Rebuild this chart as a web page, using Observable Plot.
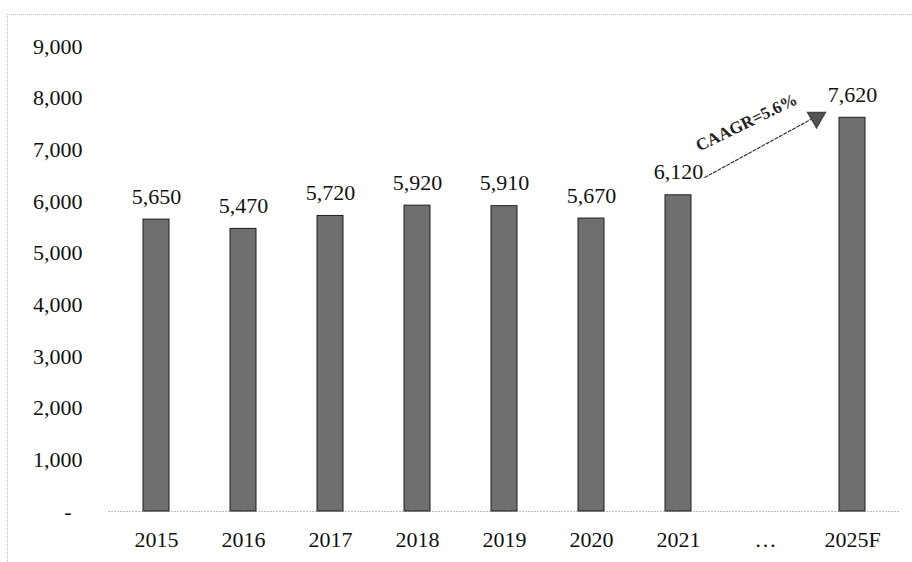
<!DOCTYPE html>
<html>
<head>
<meta charset="utf-8">
<script src="https://cdn.jsdelivr.net/npm/d3@7"></script>
<script src="https://cdn.jsdelivr.net/npm/@observablehq/plot@0.6"></script>
<style>
  html, body { margin: 0; padding: 0; background: #fff; }
  #wrap { position: relative; width: 912px; height: 562px; overflow: hidden; }
  #frame { position: absolute; left: 7px; top: 14px; width: 920px; height: 560px;
           border-top: 1px dotted #bdbdbd; border-left: 1px dotted #bdbdbd; pointer-events: none; }
  svg { display: block; }
</style>
</head>
<body>
<div id="wrap"><div id="frame"></div></div>
<script>
const categories = ["2015", "2016", "2017", "2018", "2019", "2020", "2021", "…", "2025F"];
const years = ["2015", "2016", "2017", "2018", "2019", "2020", "2021", "2025F"];
const values = [5650, 5470, 5720, 5920, 5910, 5670, 6120, 7620];
const yTicks = [0, 1000, 2000, 3000, 4000, 5000, 6000, 7000, 8000, 9000];
const growthLabel = "CAAGR=5.6%";
const growthFrom = {x: "2021", y: 6187};
const growthTo = {x: "2025F", y: 8030};
const headAt = {x: "2025F", y: 7625};
const labelAt = {x: "…", y: 7529};

const bars = years.map((k, i) => ({year: k, value: values[i]}));
const fmt = d3.format(",");

const chart = Plot.plot({
  width: 912,
  height: 562,
  marginLeft: 108,
  marginRight: 12,
  marginTop: 46,
  marginBottom: 51,
  style: {fontFamily: "'Liberation Serif', 'Times New Roman', serif", fontSize: "22px", color: "#111", background: "transparent"},
  x: {domain: categories, paddingInner: 0.704, paddingOuter: 0.362, label: null},
  y: {domain: [0, 9000], label: null},
  marks: [
    Plot.axisY({ticks: yTicks, tickSize: 0, tickPadding: 26, label: null,
      tickFormat: d => d === 0 ? "-\u00a0\u00a0" : fmt(d), fontSize: 22}),
    Plot.axisX({tickSize: 0, tickPadding: 20, label: null, fontSize: 22}),
    Plot.ruleY([0], {stroke: "#bdbdbd", strokeDasharray: "2,1"}),
    Plot.barY(bars, {x: "year", y: "value", fill: "#6f6f6f", stroke: "#1e1e1e", strokeWidth: 1}),
    Plot.text(bars, {x: "year", y: "value", text: d => fmt(d.value), dy: -23, fontSize: 22, fill: "#111"}),
    Plot.arrow([{}], {x1: () => growthFrom.x, y1: () => growthFrom.y, x2: () => growthTo.x, y2: () => growthTo.y,
      insetStart: 30, insetEnd: 48, headLength: 0, bend: 0, stroke: "#333", strokeWidth: 1.2, strokeDasharray: "3,2"}),
    Plot.dot([headAt], {x: "x", y: "y", dx: -36, symbol: "triangle", rotate: 180, r: 6.5, fill: "#555", stroke: "#444"}),
    Plot.text([labelAt], {x: "x", y: "y", dx: -19, text: () => growthLabel, rotate: -26, fontSize: 17, fontWeight: "bold", fill: "#222"})
  ]
});
document.getElementById("wrap").appendChild(chart);
</script>
</body>
</html>
